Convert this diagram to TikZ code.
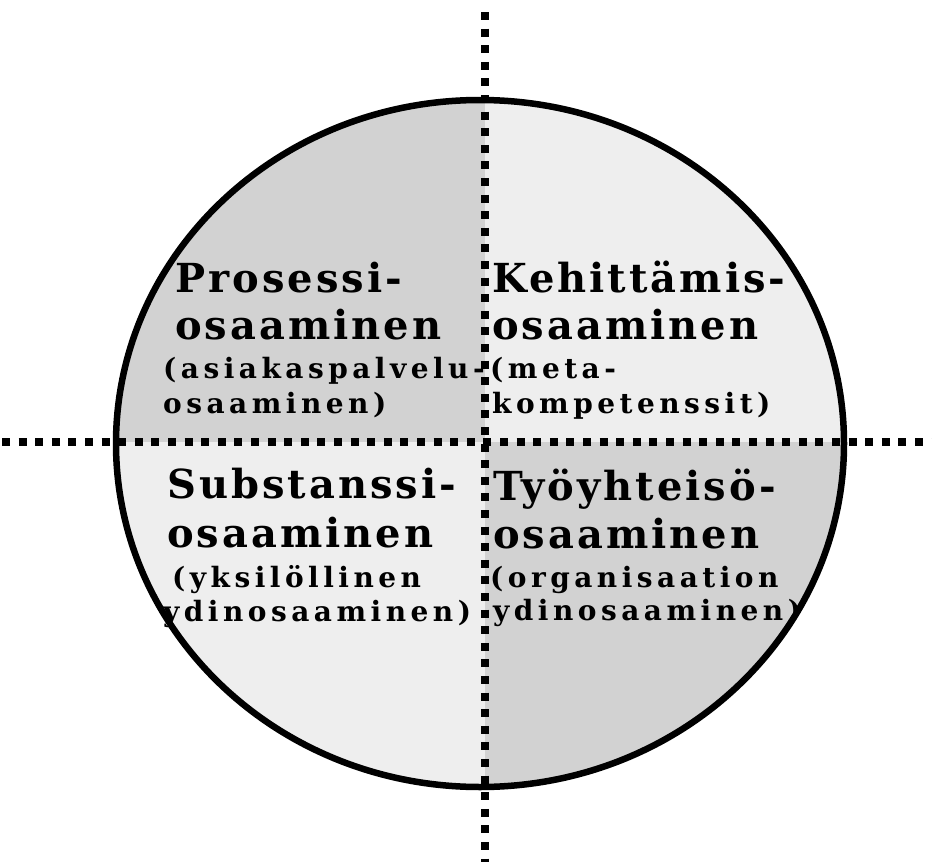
\documentclass[tikz,border=0pt]{standalone}
\usepackage{fontspec}
\newfontfamily\hfam[LetterSpace=7.5]{DejaVu Serif}
\newfontfamily\sfam[LetterSpace=16]{DejaVu Serif}
\definecolor{darkq}{HTML}{D2D2D2}
\definecolor{lightq}{HTML}{EEEEEE}
\begin{document}
\begin{tikzpicture}[x=1pt,y=-1pt,
  axisline/.style={line width=8pt, dash pattern=on 8pt off 8.6pt, black},
  head/.style={anchor=base west, inner sep=0pt, font=\hfam\bfseries\fontsize{40}{40}\selectfont},
  sub/.style={anchor=base west, inner sep=0pt, font=\sfam\bfseries\fontsize{28}{28}\selectfont}]
\useasboundingbox (0,0) rectangle (932,862);
\fill[white] (0,0) rectangle (932,862);
\begin{scope}
  \clip (480,443.5) ellipse [x radius=364pt, y radius=343.5pt];
  \fill[darkq] (0,0) rectangle (484.5,442);
  \fill[lightq] (484.5,0) rectangle (932,442);
  \fill[lightq] (0,442) rectangle (484.5,862);
  \fill[darkq] (484.5,442) rectangle (932,862);
\end{scope}
\draw[line width=6.5pt] (480,443.5) ellipse [x radius=364pt, y radius=343.5pt];
\coordinate (vt) at (484.5,12);
\coordinate (vb) at (484.5,862);
\coordinate (hl) at (2,442);
\coordinate (hr) at (932,442);
\draw[axisline] (vt) -- (vb);
\draw[axisline] (hl) -- (hr);
% top left
\node[head] (tl1) at (175,292) {Prosessi-};
\node[head] (tl2) at (175,339) {osaaminen};
\node[sub]  (tl3) at (163,378) {(asiakaspalvelu-};
\node[sub]  (tl4) at (163,413) {osaaminen)};
% top right
\node[head] (tr1) at (492,292) {Kehittämis-};
\node[head] (tr2) at (492,339) {osaaminen};
\node[sub]  (tr3) at (490,378) {(meta-};
\node[sub]  (tr4) at (492,413) {kompetenssit)};
% bottom left
\node[head] (bl1) at (167,498) {Substanssi-};
\node[head] (bl2) at (167,547) {osaaminen};
\node[sub]  (bl3) at (172,587) {(yksilöllinen};
\node[sub]  (bl4) at (163,621) {ydinosaaminen)};
% bottom right
\node[head] (br1) at (493,500) {Työyhteisö-};
\node[head] (br2) at (493,548) {osaaminen};
\node[sub]  (br3) at (490,587) {(organisaation};
\node[sub]  (br4) at (493,620) {ydinosaaminen)};
\end{tikzpicture}
\end{document}
